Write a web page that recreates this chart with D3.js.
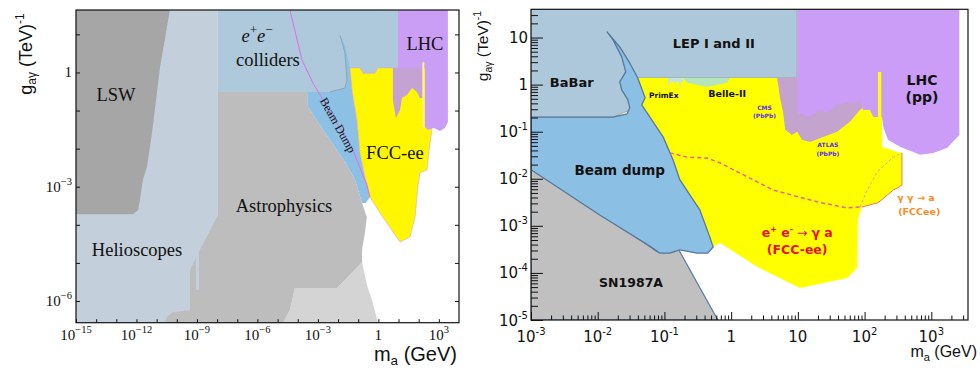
<!DOCTYPE html>
<html lang="en">
<head>
<meta charset="UTF-8">
<title>ALP photon coupling limits</title>
<script src="https://d3js.org/d3.v7.min.js"></script>
<style>
  body { margin: 0; background: #fff; }
  svg { display: block; }
</style>
</head>
<body>
<svg id="chart" width="980" height="369"></svg>
<script>
// every vertex is [log10(m_a / GeV), log10(g_ay / TeV^-1)]

// ---- left panel ----
const helioscopeRegion = [[-15,1.64],[-7.96,1.64],[-7.96,-6.57],[-15,-6.57]];
const lswRegion = [[-15,1.64],[-10.34,1.64],[-10.83,0.14],[-11.23,-1.59],[-11.48,-2.48],[-11.68,-2.82],[-11.83,-3.35],[-11.92,-3.61],[-12.17,-3.72],[-15,-3.72]];
const colliderRegion = [[-7.96,1.64],[1.02,1.64],[1.02,-0.51],[-7.96,-0.51]];
const astroLowRegion = [[-0.81,-4.98],[-0.57,-5.58],[-0.32,-5.97],[-0.02,-6.57],[-4.73,-6.57],[-4.39,-6.24],[-4.14,-5.66],[-2.05,-5.66]];
const astroRegion = [[-7.96,-0.51],[-3.54,-0.51],[-3.49,-0.91],[-2.40,-1.77],[-1.66,-2.35],[-1.16,-2.82],[-0.81,-3.43],[-0.57,-3.80],[-0.67,-4.22],[-0.81,-4.66],[-0.81,-4.98],[-2.05,-5.66],[-4.14,-5.66],[-4.39,-6.24],[-4.73,-6.57],[-10.59,-6.57],[-10.49,-6.42],[-10.19,-6.29],[-9.35,-6.24],[-9.35,-5.19],[-9.05,-4.87],[-9.05,-5.71],[-8.90,-5.71],[-8.90,-4.71],[-7.96,-3.74]];
const beamDumpLeft = [[-1.90,0.98],[-1.66,0.72],[-1.41,0.12],[-1.31,-0.46],[-1.06,-1.25],[-0.91,-2.12],[-0.66,-2.75],[-0.52,-3.01],[-0.42,-3.27],[-0.62,-3.43],[-0.81,-3.43],[-1.16,-2.82],[-1.66,-2.35],[-2.40,-1.77],[-3.49,-0.91],[-3.54,-0.51],[-2.40,-0.51],[-1.66,-0.41],[-1.56,-0.20],[-1.66,0.51]];
const beamDumpEdgeLeft = [[-2.40,-0.51],[-1.66,-0.41],[-1.56,-0.20],[-1.66,0.51],[-1.90,0.98]];
const fccLeft = [[-1.41,0.12],[-0.91,0.12],[-0.76,-0.02],[-0.17,-0.02],[-0.02,0.12],[2.31,0.12],[2.56,-1.25],[2.66,-1.51],[2.56,-1.85],[2.41,-2.56],[2.06,-2.64],[1.96,-3.01],[1.82,-3.80],[1.57,-4.32],[1.07,-4.45],[0.67,-4.14],[0.08,-3.69],[-0.42,-3.27],[-0.52,-3.01],[-0.66,-2.75],[-0.91,-2.12],[-1.06,-1.25],[-1.31,-0.46]];
const lhcOverlapLeft = [[0.72,0.12],[2.21,0.12],[2.21,-0.67],[2.06,-0.67],[1.91,-0.51],[1.67,-0.41],[1.42,-0.59],[1.17,-0.67],[1.07,-0.99],[0.87,-1.20],[0.72,-0.72]];
const lhcLeft = [[0.97,1.64],[3.45,1.64],[3.45,-1.30],[3.30,-1.46],[3.06,-1.54],[2.76,-1.46],[2.46,-1.51],[2.31,-1.43],[2.31,0.12],[0.97,0.12]];
const fccStripeLeft = [[2.18,0.27],[2.28,0.27],[2.28,-1.43],[2.18,-1.43]];
const beamDumpLineLeft = [[-4.39,1.64],[-3.79,0.33],[-3.24,-0.28],[-2.25,-1.17],[-1.26,-2.04],[-0.57,-2.96],[-0.42,-3.27]];

const leftXTickExps = d3.range(-15, 4);
const leftXLabelExps = [-15, -12, -9, -6, -3, 0, 3];
const leftYTickExps = d3.range(-6, 2);
const leftYLabelExps = [-6, -3, 0];

// ---- right panel ----
const lepBabarRegion = [[-3,1.6],[0.99,1.6],[0.99,0.14],[-1.41,0.14],[-1.52,-0.54],[-1.77,-0.69],[-3,-0.69]];
const sn1987aRegion = [[-3,-1.75],[-2.61,-2.13],[-1.92,-2.73],[-1.11,-3.55],[-0.80,-3.47],[-0.20,-5],[-3,-5]];
const beamDumpRight = [[-3,-0.69],[-1.77,-0.69],[-1.56,-0.62],[-1.52,-0.49],[-1.55,-0.32],[-1.64,-0.11],[-1.67,0.06],[-1.58,0.27],[-1.64,0.59],[-1.77,0.95],[-1.86,1.12],[-1.67,0.80],[-1.52,0.46],[-1.40,0.14],[-1.29,-0.28],[-1.34,-0.43],[-1.26,-0.60],[-1.17,-0.79],[-1.02,-1.11],[-0.87,-1.60],[-0.77,-2.02],[-0.47,-2.66],[-0.32,-3.24],[-0.27,-3.45],[-0.35,-3.58],[-0.51,-3.58],[-0.77,-3.51],[-0.92,-3.58],[-1.07,-3.58],[-1.22,-3.43],[-1.97,-2.77],[-2.72,-2.07],[-3,-1.81]];
const fccRight = [[-1.40,0.14],[2.26,0.14],[2.26,-1.32],[2.49,-1.43],[2.56,-1.45],[2.56,-2.13],[2.50,-2.19],[2.43,-2.24],[2.20,-2.51],[1.96,-2.60],[1.90,-2.87],[1.89,-3.89],[1.74,-4.11],[1.03,-4.32],[0.39,-3.87],[-0.17,-3.36],[-0.27,-3.45],[-0.32,-3.24],[-0.47,-2.66],[-0.77,-2.02],[-0.87,-1.60],[-1.02,-1.11],[-1.17,-0.79],[-1.26,-0.60],[-1.34,-0.43],[-1.29,-0.28]];
const belle2Region = [[-0.72,0.14],[-0.02,0.14],[-0.06,0.04],[-0.36,-0.05],[-0.66,0.04]];
const primexRegion = [[-0.945,0.14],[-0.72,0.14],[-0.72,0.06],[-0.75,0.06],[-0.765,-0.11],[-0.78,0.06],[-0.825,0.06],[-0.84,-0.03],[-0.855,0.06],[-0.915,0.06],[-0.93,-0.03],[-0.945,0.02]];
const heavyIonRegion = [[0.69,0.14],[1.98,0.14],[1.98,-0.49],[1.93,-0.54],[1.78,-0.79],[1.59,-1.00],[1.38,-1.11],[1.18,-1.22],[1.06,-1.17],[0.99,-1.00],[0.91,-1.07],[0.81,-0.96],[0.78,-0.60],[0.73,-0.26]];
const lhcRight = [[0.99,1.6],[3.42,1.6],[3.42,-1.07],[3.24,-1.34],[3.03,-1.45],[2.83,-1.49],[2.53,-1.32],[2.35,-1.17],[2.28,-0.90],[2.26,-0.69],[2.13,-0.69],[2.08,-0.54],[1.98,-0.54],[1.93,-0.32],[1.89,-0.37],[1.74,-0.39],[1.59,-0.43],[1.44,-0.60],[1.33,-0.54],[1.18,-0.69],[0.99,-0.60]];
const fccStripeRight = [[2.20,0.27],[2.25,0.27],[2.25,-1.22],[2.20,-1.22]];
const fccEeDashed = [[-0.92,-1.45],[-0.66,-1.54],[-0.36,-1.56],[-0.17,-1.66],[0.09,-1.85],[0.33,-2.02],[0.63,-2.24],[1.29,-2.49],[1.74,-2.62],[1.93,-2.60]];
const photonFusionDashed = [[1.93,-2.60],[2.04,-2.24],[2.19,-1.85],[2.43,-1.54],[2.56,-1.45]];
const photonFusionEdge = [[1.96,-2.60],[2.20,-2.51],[2.43,-2.24],[2.50,-2.19],[2.56,-2.13],[2.56,-1.45]];

const rightXTickExps = d3.range(-3, 4);
const rightYTickExps = d3.range(-5, 2);

const svg = d3.select("#chart");
svg.append("rect").attr("width", 980).attr("height", 369).attr("fill", "#fff");

// scales
const lx = d3.scaleLog().domain([1e-15, 1e4]).range([76, 459]);
const ly = d3.scaleLog().domain([10 ** -6.57, 10 ** 1.64]).range([322.7, 10]);
const rx = d3.scaleLog().domain([1e-3, 10 ** 3.55]).range([531, 968]);
const ry = d3.scaleLog().domain([1e-5, 10 ** 1.6]).range([320, 9.3]);

function pathOf(pts, x, y, closed) {
  const d = d3.line().x(p => x(10 ** p[0])).y(p => y(10 ** p[1]))(pts);
  return closed ? d + "Z" : d;
}

function region(g, pts, x, y, fill, stroke, sw) {
  g.append("path")
    .attr("d", pathOf(pts, x, y, true))
    .attr("fill", fill)
    .attr("stroke", stroke || "none")
    .attr("stroke-width", sw || 0)
    .attr("stroke-linejoin", "round");
}

function curve(g, pts, x, y, color, sw, dash) {
  g.append("path")
    .attr("d", pathOf(pts, x, y, false))
    .attr("fill", "none")
    .attr("stroke", color)
    .attr("stroke-width", sw)
    .attr("stroke-dasharray", dash || null);
}

const defs = svg.append("defs");
defs.append("clipPath").attr("id", "clipL").append("rect")
  .attr("x", 76).attr("y", 10).attr("width", 383).attr("height", 312.7);
defs.append("clipPath").attr("id", "clipR").append("rect")
  .attr("x", 531).attr("y", 9.3).attr("width", 437).attr("height", 310.7);

// ---------- left panel ----------
const gL = svg.append("g").attr("clip-path", "url(#clipL)");
region(gL, helioscopeRegion, lx, ly, "#c3d0dc");
region(gL, astroLowRegion, lx, ly, "#d4d4d4");
region(gL, astroRegion, lx, ly, "#bdbdbd");
region(gL, lswRegion, lx, ly, "#a6a6a6");
region(gL, colliderRegion, lx, ly, "#adc9db");
region(gL, beamDumpLeft, lx, ly, "#8cc0e4");
curve(gL, beamDumpEdgeLeft, lx, ly, "#8c9cab", 0.8);
region(gL, fccLeft, lx, ly, "#fff700", "#e3a0d8", 0.6);
region(gL, lhcOverlapLeft, lx, ly, "#c4a3d4");
region(gL, lhcLeft, lx, ly, "#ca9ef4");
region(gL, fccStripeLeft, lx, ly, "#fff38a");
curve(gL, beamDumpLineLeft, lx, ly, "#e070e0", 1);

const serif = "'Liberation Serif', 'Times New Roman', serif";
const sans = "'Liberation Sans', Arial, sans-serif";

const leftLabels = [
  { text: "LSW", at: [-13.02, -0.75] },
  { text: "colliders", at: [-5.48, 0.17] },
  { text: "LHC", at: [2.31, 0.59] },
  { text: "FCC-ee", at: [0.82, -2.27] },
  { text: "Astrophysics", at: [-4.68, -3.66] },
  { text: "Helioscopes", at: [-11.97, -4.82] }
];
const gLT = svg.append("g").attr("font-family", serif).attr("font-size", 18.5).attr("fill", "#111");
leftLabels.forEach(d => {
  gLT.append("text").attr("x", lx(10 ** d.at[0])).attr("y", ly(10 ** d.at[1]))
    .attr("text-anchor", "middle").text(d.text);
});
// e+e- in italics
const ee = gLT.append("text").attr("x", lx(10 ** -6.02)).attr("y", ly(10 ** 0.80))
  .attr("text-anchor", "middle").attr("font-style", "italic");
ee.append("tspan").text("e");
ee.append("tspan").attr("dy", -8).attr("font-size", 13).attr("font-style", "normal").text("+");
ee.append("tspan").attr("dy", 8).text("e");
ee.append("tspan").attr("dy", -8).attr("font-size", 13).attr("font-style", "normal").text("\u2212");
// rotated beam dump label
gLT.append("text")
  .attr("transform", `translate(${lx(10 ** -2.0)},${ly(10 ** -1.38)}) rotate(61)`)
  .attr("text-anchor", "middle").attr("dy", "0.35em").attr("font-size", 12)
  .text("Beam Dump");

// left axes
const axL = svg.append("g");
axL.append("g").attr("transform", "translate(0,322.7)")
  .call(d3.axisBottom(lx).tickValues(leftXTickExps.map(e => 10 ** e)).tickSize(-3.5).tickFormat(""));
axL.append("g").attr("transform", "translate(76,0)")
  .call(d3.axisLeft(ly).tickValues(leftYTickExps.map(e => 10 ** e)).tickSize(-4).tickFormat(""));
axL.append("g").attr("transform", "translate(459,0)")
  .call(d3.axisRight(ly).tickValues(leftYTickExps.map(e => 10 ** e)).tickSize(-4).tickFormat(""));
axL.selectAll(".domain").remove();
axL.selectAll(".tick line").attr("stroke", "#111").attr("stroke-width", 1);
svg.append("rect").attr("x", 76).attr("y", 10).attr("width", 383).attr("height", 312.7)
  .attr("fill", "none").attr("stroke", "#111").attr("stroke-width", 1.2);

function powText(sel, e, supSize, supDy, minus) {
  if (e === 0) { sel.text("1"); return; }
  if (e === 1) { sel.text("10"); return; }
  sel.append("tspan").text("10");
  sel.append("tspan").attr("dy", supDy).attr("font-size", supSize)
    .text(e < 0 ? minus + Math.abs(e) : String(e));
}

leftXLabelExps.forEach(e => {
  const t = svg.append("text").attr("x", lx(10 ** e)).attr("y", 340)
    .attr("text-anchor", "middle").attr("font-family", serif).attr("font-size", 15).attr("fill", "#111");
  powText(t, e, 10.5, -7, "\u2212");
});
leftYLabelExps.forEach(e => {
  const t = svg.append("text").attr("x", 72).attr("y", ly(10 ** e) + 5)
    .attr("text-anchor", "end").attr("font-family", serif).attr("font-size", 15).attr("fill", "#111");
  powText(t, e, 10.5, -7, "\u2212");
});

// left axis titles
const tyL = svg.append("text").attr("transform", "translate(32,54) rotate(-90)")
  .attr("text-anchor", "middle").attr("font-family", sans).attr("font-size", 18).attr("fill", "#111");
tyL.append("tspan").text("g");
tyL.append("tspan").attr("dy", 4).attr("font-size", 12).text("a\u03b3");
tyL.append("tspan").attr("dy", -4).text(" (TeV)");
tyL.append("tspan").attr("dy", -8).attr("font-size", 12).text("-1");
const txL = svg.append("text").attr("x", 457).attr("y", 361)
  .attr("text-anchor", "end").attr("font-family", sans).attr("font-size", 20).attr("fill", "#111");
txL.append("tspan").text("m");
txL.append("tspan").attr("dy", 4).attr("font-size", 13.5).text("a");
txL.append("tspan").attr("dy", -4).text(" (GeV)");

// ---------- right panel ----------
const gR = svg.append("g").attr("clip-path", "url(#clipR)");
region(gR, lepBabarRegion, rx, ry, "#adc8da", "#9aa07a", 0.8);
region(gR, sn1987aRegion, rx, ry, "#c0c0c0", "#5a7b9c", 1.2);
region(gR, fccRight, rx, ry, "#ffff00");
region(gR, beamDumpRight, rx, ry, "#8bbfe3", "#56789a", 1.3);
region(gR, belle2Region, rx, ry, "#b6e4bd");
region(gR, primexRegion, rx, ry, "#c6e2dc");
region(gR, heavyIonRegion, rx, ry, "#c4a3cf");
region(gR, lhcRight, rx, ry, "#cb9df7");
region(gR, fccStripeRight, rx, ry, "#ffff00");
curve(gR, photonFusionEdge, rx, ry, "#f07070", 1);
curve(gR, photonFusionDashed, rx, ry, "#d8a8b4", 1, "3,2");
curve(gR, fccEeDashed, rx, ry, "#f0609a", 1.5, "4,3");

const bold = "'DejaVu Sans', Verdana, sans-serif";
const rightLabels = [
  { text: "LEP I and II", at: [-0.26, 0.78], size: 13, color: "#111" },
  { text: "BaBar", at: [-2.39, -0.05], size: 13, color: "#111" },
  { text: "PrimEx", at: [-1.01, -0.28], size: 7.5, color: "#111" },
  { text: "Belle-II", at: [-0.06, -0.26], size: 9.5, color: "#111" },
  { text: "CMS", at: [0.50, -0.54], size: 6, color: "#5a2ee0" },
  { text: "(PbPb)", at: [0.50, -0.71], size: 6, color: "#5a2ee0" },
  { text: "ATLAS", at: [1.45, -1.32], size: 6, color: "#5a2ee0" },
  { text: "(PbPb)", at: [1.45, -1.51], size: 6, color: "#5a2ee0" },
  { text: "LHC", at: [2.86, 0.0], size: 14, color: "#111" },
  { text: "(pp)", at: [2.86, -0.36], size: 14, color: "#111" },
  { text: "Beam dump", at: [-1.67, -1.92], size: 13.5, color: "#111" },
  { text: "SN1987A", at: [-1.50, -4.30], size: 12.5, color: "#111" },
  { text: "(FCC-ee)", at: [0.99, -3.60], size: 12.5, color: "#e8101c" },
  { text: "\u03b3 \u03b3 \u2192 a", at: [2.77, -2.47], size: 9.5, color: "#ff8a1e" },
  { text: "(FCCee)", at: [2.82, -2.77], size: 9.5, color: "#ff8a1e" }
];
const gRT = svg.append("g").attr("font-family", bold).attr("font-weight", "bold");
rightLabels.forEach(d => {
  gRT.append("text").attr("x", rx(10 ** d.at[0])).attr("y", ry(10 ** d.at[1]))
    .attr("text-anchor", "middle").attr("font-size", d.size).attr("fill", d.color).text(d.text);
});
const eeR = gRT.append("text").attr("x", rx(10 ** 0.99)).attr("y", ry(10 ** -3.24))
  .attr("text-anchor", "middle").attr("font-size", 12.5).attr("fill", "#e8101c");
eeR.append("tspan").text("e");
eeR.append("tspan").attr("dy", -5).attr("font-size", 8).text("+");
eeR.append("tspan").attr("dy", 5).text(" e");
eeR.append("tspan").attr("dy", -5).attr("font-size", 8).text("-");
eeR.append("tspan").attr("dy", 5).attr("font-weight", "normal").text(" \u2192 ");
eeR.append("tspan").text("\u03b3 a");

// right axes
const rxMinor = [];
rightXTickExps.forEach(e => d3.range(2, 10).forEach(k => { if (k * 10 ** e <= 10 ** 3.55) rxMinor.push(k * 10 ** e); }));
const ryMinor = [];
rightYTickExps.forEach(e => d3.range(2, 10).forEach(k => { if (k * 10 ** e <= 10 ** 1.6) ryMinor.push(k * 10 ** e); }));

const axR = svg.append("g");
axR.append("g").attr("transform", "translate(0,320)")
  .call(d3.axisBottom(rx).tickValues(rightXTickExps.map(e => 10 ** e)).tickSize(-8).tickFormat(""));
axR.append("g").attr("transform", "translate(0,320)")
  .call(d3.axisBottom(rx).tickValues(rxMinor).tickSize(-4.5).tickFormat(""));
axR.append("g").attr("transform", "translate(531,0)")
  .call(d3.axisLeft(ry).tickValues(rightYTickExps.map(e => 10 ** e)).tickSize(-12).tickFormat(""));
axR.append("g").attr("transform", "translate(531,0)")
  .call(d3.axisLeft(ry).tickValues(ryMinor).tickSize(-7).tickFormat(""));
axR.selectAll(".domain").remove();
axR.selectAll(".tick line").attr("stroke", "#111").attr("stroke-width", 1);
svg.append("rect").attr("x", 531).attr("y", 9.3).attr("width", 437).attr("height", 310.7)
  .attr("fill", "none").attr("stroke", "#111").attr("stroke-width", 1.2);

const labelSans = "'DejaVu Sans', Verdana, sans-serif";
rightXTickExps.forEach(e => {
  const t = svg.append("text").attr("x", rx(10 ** e)).attr("y", 342)
    .attr("text-anchor", "middle").attr("font-family", labelSans).attr("font-size", 15).attr("fill", "#111");
  powText(t, e, 10, -7, "-");
});
rightYTickExps.forEach(e => {
  const t = svg.append("text").attr("x", 528).attr("y", ry(10 ** e) + 5.5)
    .attr("text-anchor", "end").attr("font-family", labelSans).attr("font-size", 15).attr("fill", "#111");
  powText(t, e, 10, -7, "-");
});

const tyR = svg.append("text").attr("transform", "translate(488,46) rotate(-90)")
  .attr("text-anchor", "middle").attr("font-family", sans).attr("font-size", 15.5).attr("fill", "#111");
tyR.append("tspan").text("g");
tyR.append("tspan").attr("dy", 4).attr("font-size", 10.5).text("a\u03b3");
tyR.append("tspan").attr("dy", -4).text(" (TeV)");
tyR.append("tspan").attr("dy", -7).attr("font-size", 10.5).text("-1");
const txR = svg.append("text").attr("x", 977).attr("y", 357)
  .attr("text-anchor", "end").attr("font-family", sans).attr("font-size", 16).attr("fill", "#111");
txR.append("tspan").text("m");
txR.append("tspan").attr("dy", 4).attr("font-size", 11).text("a");
txR.append("tspan").attr("dy", -4).text(" (GeV)");
</script>
</body>
</html>
